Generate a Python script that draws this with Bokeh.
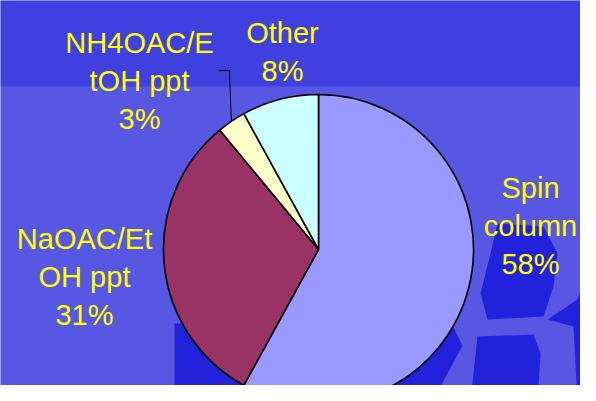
import math
from bokeh.plotting import figure
from bokeh.models import Range1d, ColumnDataSource
from bokeh.core.properties import value
from bokeh.embed import file_html
from bokeh.resources import INLINE

# ---- data ----
categories = ["Spin column", "NaOAC/EtOH ppt", "NH4OAC/EtOH ppt", "Other"]
percent_values = [58, 31, 3, 8]
label_lines = [["Spin", "column"], ["NaOAC/Et", "OH ppt"], ["NH4OAC/E", "tOH ppt"], ["Other"]]
slice_colors = ["#9999ff", "#993366", "#ffffcc", "#ccffff"]

# ---- layout (pixel-like coordinates, y measured downward) ----
W, H = 580, 385
CX, CY, R = 318, 249, 155
label_anchor_x = [530, 84, 139, 282]
label_first_baseline = [187, 238, 42, 32]
LINE_STEP = 38

BG_TOP = "#4040e0"
BG_LOW = "#5757e3"
BG_DARK = "#2222da"

p = figure(width=W, height=H,
           x_range=Range1d(0, W), y_range=Range1d(-H, 0),
           output_backend="svg", toolbar_location=None,
           x_axis_location=None, y_axis_location=None,
           min_border=0, outline_line_color=None,
           background_fill_color=BG_LOW, border_fill_color=BG_LOW)
p.grid.visible = False

# background decoration
p.quad(left=[0], right=[W], top=[0], bottom=[-86], fill_color=BG_TOP, line_color=None)
dark_shapes = [
    [(174, 323), (262, 323), (262, 401), (174, 401)],
    [(370, 401), (432, 401), (462, 345), (452, 325), (400, 355)],
    [(497, 223), (543, 226), (557, 253), (553, 286), (543, 316), (487, 319), (480, 293), (490, 253)],
    [(477, 336), (533, 334), (540, 353), (537, 401), (470, 401)],
    [(583, 219), (596, 219), (596, 401), (577, 401), (573, 326), (547, 319), (577, 299), (587, 273)],
]
p.patches(xs=[[pt[0] for pt in s] for s in dark_shapes],
          ys=[[-pt[1] for pt in s] for s in dark_shapes],
          fill_color=BG_DARK, line_color=None)

# pie
total = sum(percent_values)
starts, ends, mids = [], [], []
acc = 0
for v in percent_values:
    a0 = acc / total
    acc += v
    a1 = acc / total
    starts.append(math.pi / 2 - 2 * math.pi * a0)
    ends.append(math.pi / 2 - 2 * math.pi * a1)
    mids.append(math.pi / 2 - 2 * math.pi * (a0 + a1) / 2)

src = ColumnDataSource(dict(cat=categories, val=percent_values, start=starts, end=ends,
                            color=slice_colors))
p.wedge(x=CX, y=-CY, radius=R, start_angle="start", end_angle="end", direction="clock",
        fill_color="color", line_color="black", line_width=1.6, source=src)

# labels
tx, ty, tt = [], [], []
for i, v in enumerate(percent_values):
    lines = label_lines[i] + [f"{v}%"]
    for j, line in enumerate(lines):
        tx.append(label_anchor_x[i])
        ty.append(-(label_first_baseline[i] + j * LINE_STEP))
        tt.append(line)
p.text(x=tx, y=ty, text=tt, text_font=value("Liberation Sans"), text_font_size="29px",
       text_color="#ffff00", text_align="center", text_baseline="alphabetic")

# leader line for the small slice
k = 2
ex = CX + R * math.cos(mids[k])
ey = -CY + R * math.sin(mids[k])
p.line(x=[218, ex - 2, ex], y=[-70, -70, ey], line_color="black", line_width=1)

open("out.html", "w").write(file_html(p, INLINE))
